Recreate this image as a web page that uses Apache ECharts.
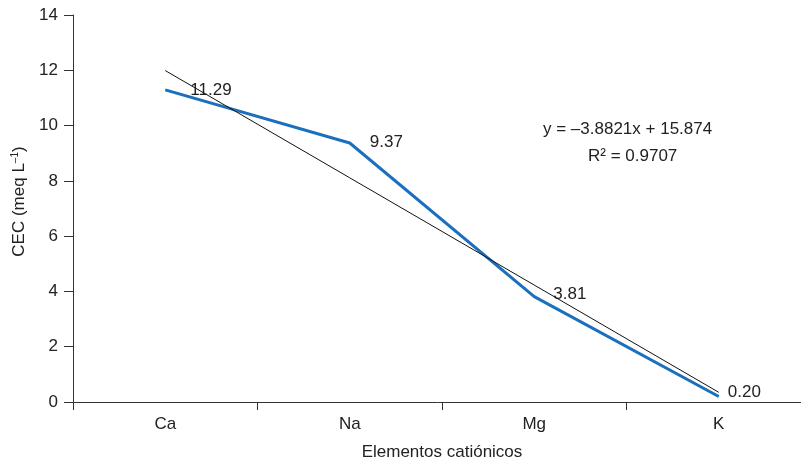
<!DOCTYPE html>
<html>
<head>
<meta charset="utf-8">
<script src="https://cdn.jsdelivr.net/npm/echarts@6/dist/echarts.min.js"></script>
<style>
  html, body {margin: 0; padding: 0; background: #fff;}
  #chart {width: 801px; height: 463px;}
</style>
</head>
<body>
<div id="chart"></div>
<script>
const categories = ["Ca", "Na", "Mg", "K"];
const cecValues = [11.29, 9.37, 3.81, 0.20];
// linear trend (y = -3.8821x + 15.874)
const trendValues = [11.99, 8.11, 4.23, 0.35];
const equationLines = ["y = \u20133.8821x + 15.874", "R\u00b2 = 0.9707"];

const FONT = "Liberation Sans, Arial, sans-serif";
const TEXT = "#222";
// small per-label nudges so the value labels sit like the original
const LABEL_NUDGE = [[5, 0], [0, -1], [-1, -2], [-11, -4]];

const chart = echarts.init(document.getElementById("chart"));
chart.setOption({
  animation: false,
  grid: {left: 73, top: 15, width: 738, height: 387, containLabel: false, outerBoundsMode: "none"},
  xAxis: {
    type: "category",
    data: categories,
    boundaryGap: true,
    name: "Elementos catiónicos",
    nameLocation: "middle",
    nameGap: 42,
    nameTextStyle: {fontFamily: FONT, fontSize: 17, color: TEXT},
    axisLine: {lineStyle: {color: "#333", width: 1}},
    axisTick: {show: true, length: 8, inside: false, lineStyle: {color: "#333"}},
    axisLabel: {fontFamily: FONT, fontSize: 17, color: TEXT, margin: 14},
  },
  yAxis: {
    type: "value",
    min: 0,
    max: 14,
    interval: 2,
    name: "CEC (meq L{sup|\u20131})",
    nameLocation: "middle",
    nameGap: 40,
    nameTextStyle: {
      fontFamily: FONT, fontSize: 17, color: TEXT,
      padding: [0, 0, 0, 14],
      rich: {sup: {fontFamily: FONT, fontSize: 10, color: TEXT, verticalAlign: "top", padding: [0, 0, 9, 0]}},
    },
    axisLine: {show: true, lineStyle: {color: "#333", width: 1}},
    axisTick: {show: true, length: 9, lineStyle: {color: "#333"}},
    axisLabel: {fontFamily: FONT, fontSize: 17, color: TEXT, margin: 15},
    splitLine: {show: false},
  },
  series: [
    {
      name: "Trend",
      type: "line",
      data: trendValues,
      symbol: "none",
      lineStyle: {color: "#111", width: 1},
      z: 3,
    },
    {
      name: "CEC",
      type: "line",
      data: cecValues,
      symbol: "circle",
      symbolSize: 0.1,
      itemStyle: {color: "#1a6fbf"},
      lineStyle: {color: "#1a6fbf", width: 3},
      label: {
        show: true,
        position: "right",
        distance: 20,
        formatter: p => p.value.toFixed(2),
        fontFamily: FONT,
        fontSize: 17,
        color: TEXT,
      },
      labelLayout: p => ({dx: LABEL_NUDGE[p.dataIndex][0], dy: LABEL_NUDGE[p.dataIndex][1]}),
      z: 2,
    },
  ],
  graphic: [
    {
      type: "text",
      left: 543,
      top: 121,
      style: {text: equationLines[0], font: "17px " + FONT, fill: TEXT},
    },
    {
      type: "text",
      left: 588,
      top: 148,
      style: {text: equationLines[1], font: "17px " + FONT, fill: TEXT},
    },
  ],
});
</script>
</body>
</html>
